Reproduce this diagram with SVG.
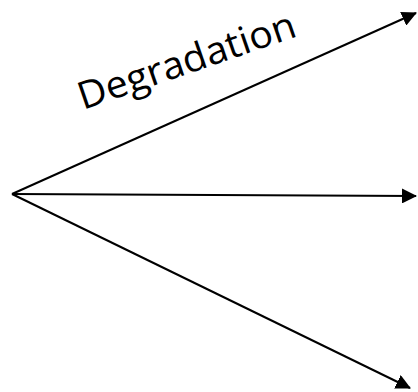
<svg xmlns="http://www.w3.org/2000/svg" width="418" height="392" viewBox="0 0 418 392">
<style>
.c{stroke:#000;stroke-width:2;fill:none;marker-end:url(#a)}
.t{font-family:"Open Sans","Liberation Sans",sans-serif;font-size:38px;fill:#000}
</style>
<defs>
<marker id="a" markerUnits="userSpaceOnUse" markerWidth="15" markerHeight="15" refX="14" refY="7.5" orient="auto">
<path d="M0,0L15,7.5L0,15Z" fill="#000"/>
</marker>
</defs>
<rect width="418" height="392" fill="#fff"/>
<g id="connectors">
<line class="c" x1="12" y1="194" x2="416" y2="13"/>
<line class="c" x1="12" y1="194" x2="416" y2="196"/>
<line class="c" x1="12" y1="194" x2="410" y2="388"/>
</g>
<g id="label">
<text class="t" transform="translate(83,110) rotate(-19)" textLength="228" lengthAdjust="spacingAndGlyphs">Degradation</text>
</g>
</svg>
